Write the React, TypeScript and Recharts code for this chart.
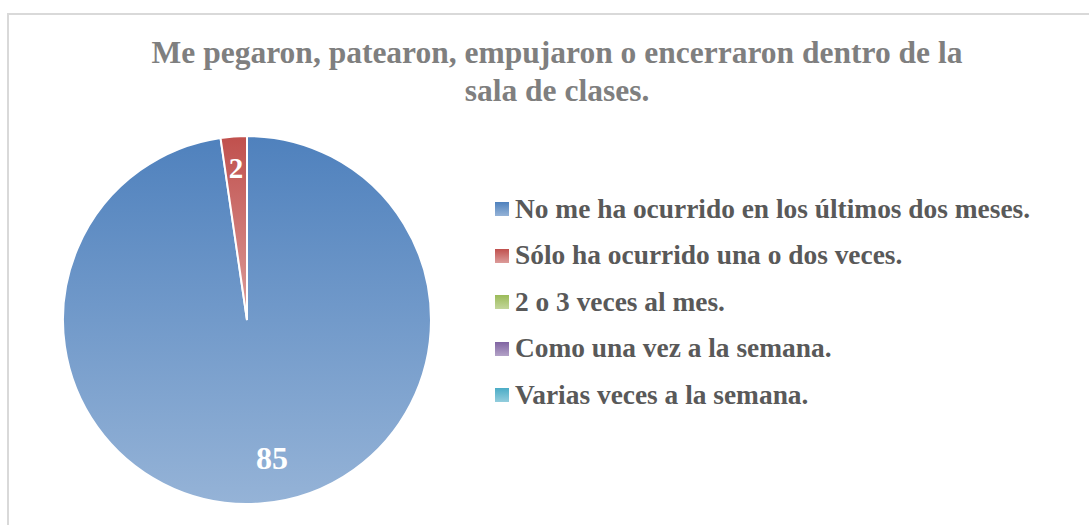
import React from 'react';
import { PieChart, Pie, Cell } from 'recharts';

const categories = [
  'No me ha ocurrido en los últimos dos meses.',
  'Sólo ha ocurrido una o dos veces.',
  '2 o 3 veces al mes.',
  'Como una vez a la semana.',
  'Varias veces a la semana.',
];
const values = [85, 2, 0, 0, 0];
const colorsTop = ['#4F81BD', '#C0504D', '#9BBB59', '#8064A2', '#4BACC6'];
const colorsBottom = ['#95B3D7', '#DC9C9A', '#C3D69B', '#B3A2C7', '#93CDDD'];
const titleLines = ['Me pegaron, patearon, empujaron o encerraron dentro de la', 'sala de clases.'];

const data = categories
  .map((name, i) => ({ name, value: values[i], idx: i }))
  .filter((d) => d.value > 0);

const RADIAN = Math.PI / 180;
const FONT = '"Liberation Serif", "Times New Roman", serif';

const renderLabel = (props: any) => {
  const { cx, cy, midAngle, outerRadius, value, index } = props;
  const r = outerRadius * (index === 0 ? 0.75 : 0.83);
  const x = cx + r * Math.cos(-midAngle * RADIAN) + (index === 0 ? 15 : 0);
  const y = cy + r * Math.sin(-midAngle * RADIAN);
  return (
    <text
      x={x}
      y={y}
      fill="#FFFFFF"
      textAnchor="middle"
      dominantBaseline="central"
      fontFamily={FONT}
      fontWeight="bold"
      fontSize={index === 0 ? 32 : 29}
    >
      {value}
    </text>
  );
};

export default function App() {
  return (
    <div style={{ position: 'absolute', left: 0, top: 0, width: 1089, height: 525, background: '#fff', overflow: 'hidden' }}>
      <div
        style={{
          position: 'absolute',
          left: 7,
          top: 13,
          width: 1200,
          height: 600,
          borderTop: '2px solid #D9D9D9',
          borderLeft: '2px solid #D9D9D9',
        }}
      />
      <div
        style={{
          position: 'absolute',
          left: 100,
          top: 34,
          width: 914,
          textAlign: 'center',
          fontFamily: FONT,
          fontWeight: 'bold',
          fontSize: 31.5,
          lineHeight: '38px',
          color: '#7F7F7F',
        }}
      >
        {titleLines.map((l, i) => (
          <div key={i} style={{ whiteSpace: 'nowrap' }}>{l}</div>
        ))}
      </div>
      <div style={{ position: 'absolute', left: 0, top: 0 }}>
        <PieChart width={1089} height={525} margin={{ top: 0, right: 0, bottom: 0, left: 0 }}>
          <defs>
            {colorsTop.map((c, i) => (
              <linearGradient key={i} id={`grad${i}`} x1="0" y1="0" x2="0" y2="1">
                <stop offset="0%" stopColor={c} />
                <stop offset="100%" stopColor={colorsBottom[i]} />
              </linearGradient>
            ))}
          </defs>
          <Pie
            data={data}
            dataKey="value"
            nameKey="name"
            cx={247}
            cy={320}
            outerRadius={184}
            startAngle={90}
            endAngle={-270}
            stroke="#FFFFFF"
            strokeWidth={2}
            label={renderLabel}
            labelLine={false}
            isAnimationActive={false}
          >
            {data.map((d) => (
              <Cell key={d.idx} fill={`url(#grad${d.idx})`} />
            ))}
          </Pie>
        </PieChart>
      </div>
      <div style={{ position: 'absolute', left: 495, top: 186 }}>
        {categories.map((c, i) => (
          <div key={i} style={{ display: 'flex', alignItems: 'center', height: 46.5 }}>
            <div
              style={{
                width: 14,
                height: 14,
                background: `linear-gradient(${colorsTop[i]}, ${colorsBottom[i]})`,
                marginRight: 6,
              }}
            />
            <span style={{ fontFamily: FONT, fontWeight: 'bold', fontSize: 27.4, color: '#595959', whiteSpace: 'nowrap' }}>{c}</span>
          </div>
        ))}
      </div>
    </div>
  );
}
